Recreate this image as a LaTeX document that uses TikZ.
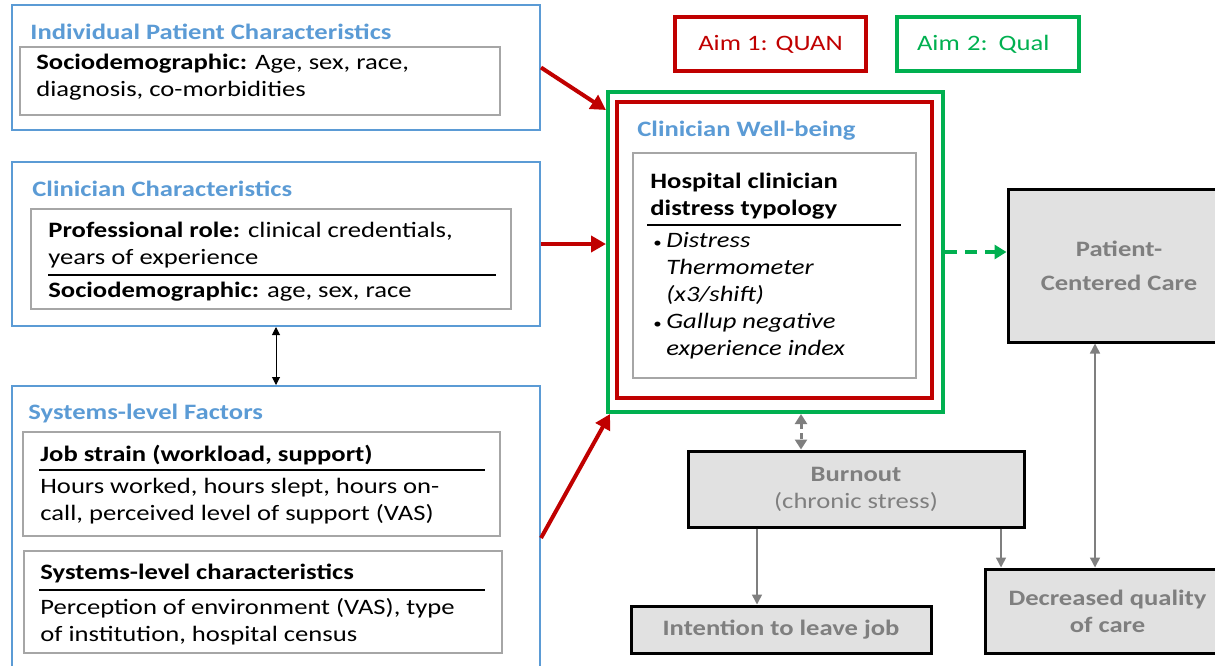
\documentclass[tikz,border=0pt]{standalone}
\usepackage{fontspec}
\setmainfont{Carlito}[FakeStretch=1.21]
\usetikzlibrary{fit,arrows.meta}
\definecolor{titleblue}{RGB}{91,155,213}
\definecolor{aimred}{RGB}{192,0,0}
\definecolor{aimgreen}{RGB}{0,176,80}
\definecolor{itemgray}{RGB}{166,166,166}
\definecolor{outfill}{RGB}{225,225,225}
\definecolor{outtext}{RGB}{127,127,127}
\newcommand{\figfont}{\fontsize{11}{13.5}\selectfont}
\newcommand{\figbullet}{\makebox[6.5pt][l]{\upshape\scriptsize\textbullet}}
\begin{document}
\begin{tikzpicture}[x=0.5pt,y=-0.5pt,font=\figfont,
  groupbox/.style={draw=titleblue,line width=1pt,inner sep=0pt},
  grouptitle/.style={anchor=base west,inner sep=0pt,text=titleblue,font=\figfont\bfseries},
  itembox/.style={draw=itemgray,line width=1pt,inner sep=0pt},
  itemtext/.style={anchor=north west,inner sep=0pt,align=left},
  rule/.style={draw=black,line width=1pt},
  aimbox/.style={line width=2pt,inner sep=0pt},
  outcome/.style={draw=black,line width=1.5pt,fill=outfill,inner sep=0pt,text=outtext,font=\figfont\bfseries,align=center},
  redarrow/.style={draw=aimred,line width=2pt,-{Triangle[length=7.5pt,width=8pt]}},
  blackarrow/.style={draw=black,line width=0.5pt,{Triangle[length=4pt,width=4pt]}-{Triangle[length=4pt,width=4pt]}},
  greendash/.style={draw=aimgreen,line width=2pt,dash pattern=on 6pt off 4pt,-{Triangle[length=6pt,width=7pt]}},
  grayarrow/.style={draw=outtext,line width=0.75pt,-{Triangle[length=5pt,width=5pt]}},
  graytwoway/.style={draw=outtext,line width=0.75pt,{Triangle[length=5pt,width=5pt]}-{Triangle[length=5pt,width=5pt]}}]
  \useasboundingbox (0,0) rectangle (1215,665);
  % left column: determinants
  \node[groupbox,fit={(12,5) (540,130)}] (patient) {};
  \node[grouptitle] (patienttitle) at (30,39) {Individual Patient Characteristics};
  \node[itembox,fit={(20,47) (500,115)}] (patientitem) {};
  \node[itemtext] (patienttext) at (36,54) {\textbf{Sociodemographic:} Age, sex, race,\\diagnosis, co-morbidities};

  \node[groupbox,fit={(12,162) (540,326)}] (clinician) {};
  \node[grouptitle] (cliniciantitle) at (32,196) {Clinician Characteristics};
  \node[itembox,fit={(31,209) (511,309)}] (clinicianitem) {};
  \node[itemtext] (roletext) at (48,222) {\textbf{Professional role:} clinical credentials,\\years of experience};
  \draw[rule] (48,275) -- (496,275);
  \node[itemtext] (sociotext) at (48,282) {\textbf{Sociodemographic:} age, sex, race};

  \node[groupbox,fit={(12,386) (540,690)}] (systems) {};
  \node[grouptitle] (systemstitle) at (28,419) {Systems-level Factors};
  \node[itembox,fit={(23,432) (500,536)}] (strainitem) {};
  \node[itemtext] (strainhead) at (40,445) {\textbf{Job strain (workload, support)}};
  \draw[rule] (39,470) -- (485,470);
  \node[itemtext] (straintext) at (40,478) {Hours worked, hours slept, hours on-\\call, perceived level of support (VAS)};
  \node[itembox,fit={(24,551) (502,653)}] (levelitem) {};
  \node[itemtext] (levelhead) at (40,564) {\textbf{Systems-level characteristics}};
  \draw[rule] (39,590) -- (485,590);
  \node[itemtext] (leveltext) at (40,598) {Perception of environment (VAS), type\\of institution, hospital census};

  % aims and well-being
  \node[aimbox,draw=aimred,text=aimred,minimum width=95.5pt,minimum height=27pt] (aimquan) at (770.5,44) {Aim 1: QUAN};
  \node[aimbox,draw=aimgreen,text=aimgreen,minimum width=91pt,minimum height=27pt,text width=71pt,align=left] (aimqual) at (988,44) {Aim 2: Qual};
  \node[aimbox,draw=aimgreen,fit={(608,92) (943,412)}] (wellqual) {};
  \node[aimbox,draw=aimred,fit={(617,102) (932,398)}] (wellquan) {};
  \node[grouptitle] (welltitle) at (637,136) {Clinician Well-being};
  \node[itembox,fit={(633,153) (916,378)}] (wellitem) {};
  \node[itemtext,font=\figfont\bfseries] (typohead) at (650,173) {Hospital clinician\\distress typology};
  \draw[rule] (647,225) -- (901,225);
  \node[itemtext,font=\figfont\itshape] (typotext) at (653,232) {\figbullet Distress\\\hspace*{6.5pt}Thermometer\\\hspace*{6.5pt}(x3/shift)\\\figbullet Gallup negative\\\hspace*{6.5pt}experience index};

  % outcomes
  \node[outcome,minimum width=111pt,minimum height=76.5pt] (pcc) at (1119,265.5) {Patient-\\[3.5pt]Centered Care};
  \node[outcome,minimum width=168pt,minimum height=38pt] (burnout) at (856,489) {Burnout\\{\mdseries (chronic stress)}};
  \node[outcome,minimum width=150pt,minimum height=23.5pt] (leave) at (781,629.5) {Intention to leave job};
  \node[outcome,minimum width=122.5pt,minimum height=42pt] (quality) at (1107.5,611) {Decreased quality\\of care};

  \coordinate (burnlink) at (801,0);
  \coordinate (leavelink) at (757,0);
  \coordinate (qualitylink) at (1001,0);
  \coordinate (pcclink) at (1095,0);

  % connectors
  \draw[redarrow] (patient.east) -- ([yshift=-10pt]wellqual.north west);
  \draw[redarrow] (clinician.east) -- (clinician.east -| wellqual.west);
  \draw[redarrow] (systems.east) -- ([xshift=2pt]wellqual.south west);
  \draw[blackarrow] (clinician.south) -- (systems.north);
  \draw[greendash] (wellqual.east) -- (wellqual.east -| pcc.west);
  \draw[draw=outtext,line width=1.5pt,dash pattern=on 3pt off 2pt,{Triangle[length=5pt,width=6pt]}-{Triangle[length=5pt,width=6pt]}] (wellqual.south -| burnlink) -- (burnout.north -| burnlink);
  \draw[grayarrow] (burnout.south -| leavelink) -- (leave.north -| leavelink);
  \draw[grayarrow] (burnout.south -| qualitylink) -- (quality.north -| qualitylink);
  \draw[graytwoway] (pcc.south -| pcclink) -- (quality.north -| pcclink);
\end{tikzpicture}
\end{document}
